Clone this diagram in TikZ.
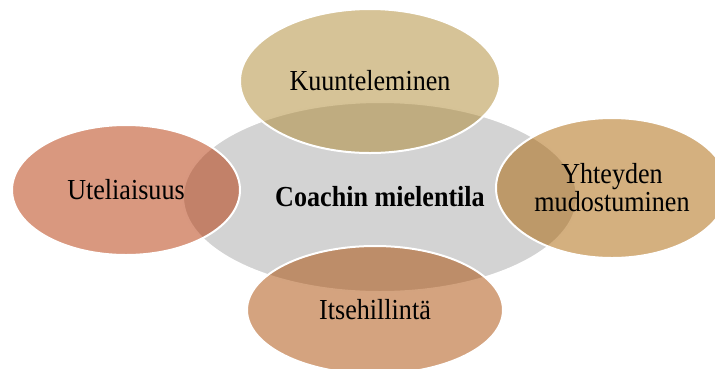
\documentclass[tikz,border=0pt]{standalone}
\usepackage{fontspec}
\setmainfont[FakeStretch=0.9]{Liberation Serif}
\usetikzlibrary{shapes.geometric}

\definecolor{hubgray}{RGB}{211,211,211}
\definecolor{goldA}{RGB}{173,135,47}
\definecolor{goldB}{RGB}{169,97,0}
\definecolor{rustA}{RGB}{179,49,0}
\definecolor{rustB}{RGB}{169,72,0}

\tikzset{
  hub/.style={ellipse, fill=hubgray, draw=white, line width=2pt, inner sep=0pt,
    font=\fontsize{29}{28}\selectfont\bfseries},
  petal/.style={ellipse, fill=#1, fill opacity=0.5, text opacity=1,
    draw=white, draw opacity=1, line width=2pt, inner sep=0pt, align=center,
    font=\fontsize{29}{28}\selectfont}
}

\begin{document}
\begin{tikzpicture}[x=1pt, y=-1pt]
  \useasboundingbox (0,0) rectangle (715,368);

  % central state of mind
  \node[hub, minimum width=394pt, minimum height=190pt] (hub) at (380,197) {Coachin mielentila};

  % surrounding qualities
  \node[petal=goldA, minimum width=260pt, minimum height=144pt] (top) at (370,81) {Kuunteleminen};
  \node[petal=goldB, minimum width=232pt, minimum height=140pt] (right) at (612,188) {Yhteyden\\mudostuminen};
  \node[petal=rustB, minimum width=256pt, minimum height=128pt] (bottom) at (375,310) {Itsehillintä};
  \node[petal=rustA, minimum width=228pt, minimum height=130pt] (left) at (126,190) {Uteliaisuus};
\end{tikzpicture}
\end{document}
